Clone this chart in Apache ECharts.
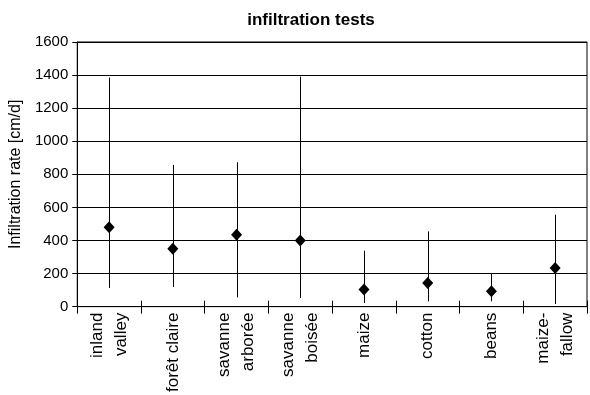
<!DOCTYPE html>
<html>
<head>
<meta charset="utf-8">
<script src="https://cdn.jsdelivr.net/npm/echarts@6/dist/echarts.min.js"></script>
<style>html,body{margin:0;padding:0;background:#fff}#c{width:590px;height:395px}</style>
</head>
<body>
<div id="c"></div>
<script>
var categories = ['inland\nvalley', 'forêt claire', 'savanne\narborée', 'savanne\nboisée', 'maize', 'cotton', 'beans', 'maize-\nfallow'];
var meanValues = [480, 350, 435, 400, 103, 143, 93, 233];
var minValues = [113, 119, 56, 52, 22, 32, 32, 16];
var maxValues = [1385, 857, 873, 1391, 338, 455, 199, 556];
var yTicks = [0, 200, 400, 600, 800, 1000, 1200, 1400, 1600];

var FONT = 'Liberation Sans, Arial, sans-serif';
var chart = echarts.init(document.getElementById('c'));
chart.setOption({
  animation: false,
  title: {
    text: 'infiltration tests',
    left: 306, top: 7, textAlign: 'center',
    textStyle: { fontFamily: FONT, fontSize: 17, fontWeight: 'bold', color: '#000' }
  },
  grid: { left: 76, right: 3, top: 42, bottom: 88, show: true, borderColor: '#000', borderWidth: 1 },
  xAxis: [{
    type: 'category', data: categories, position: 'bottom',
    axisLine: { lineStyle: { color: '#000', width: 1 } },
    axisTick: { show: true, length: 7, interval: 0, lineStyle: { color: '#000' } },
    axisLabel: { rotate: 90, margin: 6, color: '#000', fontFamily: FONT, fontSize: 17, lineHeight: 24, interval: 0 },
    splitLine: { show: false }
  }, {
    type: 'category', data: categories, position: 'bottom', offset: 0,
    axisLine: { show: false },
    axisTick: { show: true, inside: true, length: 6, interval: 0, lineStyle: { color: '#000' } },
    axisLabel: { show: false },
    splitLine: { show: false }
  }],
  yAxis: {
    type: 'value', min: yTicks[0], max: yTicks[yTicks.length - 1], interval: 200,
    name: 'Infiltration rate [cm/d]', nameLocation: 'middle', nameGap: 50,
    nameTextStyle: { fontFamily: FONT, fontSize: 16, color: '#000' },
    axisLine: { show: true, lineStyle: { color: '#000', width: 1 } },
    axisTick: { show: true, length: 5, lineStyle: { color: '#000' } },
    axisLabel: { color: '#000', fontFamily: FONT, fontSize: 15, margin: 9, formatter: function (v) { return String(v); } },
    splitLine: { show: true, lineStyle: { color: '#000', width: 1 } }
  },
  series: [{
    type: 'custom',
    renderItem: function (params, api) {
      var lo = api.coord([api.value(0), api.value(1)]);
      var hi = api.coord([api.value(0), api.value(2)]);
      var x = Math.round(lo[0]) + 0.5;
      return { type: 'line', shape: { x1: x, y1: lo[1], x2: x, y2: hi[1] }, style: { stroke: '#000', lineWidth: 1 } };
    },
    data: categories.map(function (c, i) { return [i, minValues[i], maxValues[i]]; }),
    z: 3
  }, {
    type: 'scatter',
    symbol: 'diamond', symbolSize: [11, 12],
    itemStyle: { color: '#000', opacity: 1 },
    data: meanValues,
    z: 4
  }]
});
</script>
</body>
</html>
